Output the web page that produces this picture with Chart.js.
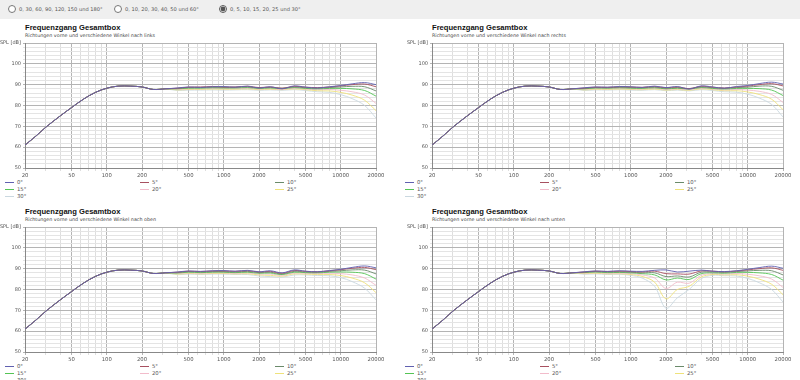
<!DOCTYPE html>
<html>
<head>
<meta charset="utf-8">
<script src="https://cdn.jsdelivr.net/npm/chart.js@4"></script>
<style>
  body { margin: 0; background: #fff; font-family: "DejaVu Sans", sans-serif; width: 800px; height: 380px; overflow: hidden; position: relative; }
  .topbar { position: absolute; left: 0; top: 0; width: 800px; height: 19px; background: #efefef; font-size: 5.1px; color: #555; }
  .topbar label { position: absolute; top: 5px; display: flex; align-items: center; }
  .topbar input { width: 8px; height: 8px; margin: 0 3px 0 0; accent-color: #555; }
  .panel { position: absolute; width: 400px; height: 184px; }
  .panel h2 { position: absolute; margin: 0; left: 25px; top: 3px; font-family: "Liberation Sans", sans-serif; font-size: 7.6px; font-weight: bold; color: #111; white-space: nowrap; }
  .panel .sub { position: absolute; left: 25px; top: 13px; font-size: 4.8px; color: #444; white-space: nowrap; }
  .panel canvas { position: absolute; top: 18px; }
  .legend { position: absolute; left: 0; top: 159px; width: 400px; font-size: 5.3px; color: #555; }
  .legend div { position: absolute; display: flex; align-items: center; white-space: nowrap; }
  .legend span.sw { display: inline-block; width: 9px; height: 1px; margin-right: 3px; }
</style>
</head>
<body>
<div class="topbar">
  <label style="left:8px"><input type="radio" name="w">0, 30, 60, 90, 120, 150 und 180°</label>
  <label style="left:114px"><input type="radio" name="w">0, 10, 20, 30, 40, 50 und 60°</label>
  <label style="left:219px"><input type="radio" name="w" checked>0, 5, 10, 15, 20, 25 und 30°</label>
</div>
<div id="panels"></div>
<script>
// frequencies (Hz)
const FREQ = [20, 25, 30, 40, 50, 63, 80, 100, 125, 160, 200, 250, 315,
  400, 500, 630, 800, 1000, 1250, 1600, 2000, 2500, 3150, 4000, 5000, 6300, 8000, 10000, 12500, 16000, 20000];

// below ~315 Hz all angles are identical
const BASS = [61, 65.5, 69.5, 75, 79, 83, 86.3, 88.3, 89.3, 89.3, 88.9, 87.7, 88.0];

const ANGLES = ["0°", "5°", "10°", "15°", "20°", "25°", "30°"];
const COLORS = ["#6060b0", "#a85060", "#6a8a6a", "#55c455", "#f2bccb", "#efe27a", "#cad8e0"];

const X_LABELS = [20, 50, 100, 200, 500, 1000, 2000, 5000, 10000, 20000];

// values from 400 Hz upwards, one list per angle
const LINKS = [
  [88.4, 88.9, 88.7, 89.0, 89.1, 88.8, 89.3, 88.4, 89.0, 88.0, 89.4, 88.8, 88.4, 89.0, 89.6, 90.4, 91.0, 90.0],
  [88.3, 88.8, 88.9, 89.1, 88.9, 88.9, 89.2, 88.6, 88.9, 88.3, 89.2, 88.8, 88.6, 88.9, 89.4, 90.0, 90.3, 89.0],
  [88.2, 88.6, 88.6, 88.8, 88.7, 88.7, 88.9, 88.4, 88.7, 88.3, 88.9, 88.5, 88.3, 88.6, 88.9, 89.2, 89.0, 87.0],
  [88.0, 88.3, 88.3, 88.5, 88.4, 88.4, 88.6, 88.2, 88.4, 88.1, 88.6, 88.2, 88.0, 88.2, 88.2, 88.0, 87.2, 84.5],
  [87.8, 88.0, 88.0, 88.2, 88.1, 88.1, 88.3, 87.9, 88.1, 87.8, 88.3, 87.9, 87.6, 87.7, 87.3, 86.6, 85.0, 81.0],
  [87.5, 87.7, 87.7, 87.9, 87.8, 87.8, 88.0, 87.6, 87.8, 87.6, 88.0, 87.6, 87.1, 87.0, 86.3, 85.0, 82.5, 77.5],
  [87.2, 87.4, 87.4, 87.5, 87.4, 87.5, 87.6, 87.3, 87.5, 87.3, 87.6, 87.2, 86.6, 86.3, 85.2, 83.3, 80.0, 74.0]
];
const RECHTS = [
  [88.5, 88.9, 88.8, 89.1, 89.0, 88.7, 89.3, 88.6, 89.1, 87.9, 89.4, 88.9, 88.3, 89.1, 89.6, 90.5, 91.2, 90.3],
  [88.4, 88.8, 88.7, 89.0, 88.9, 88.7, 89.1, 88.5, 88.9, 88.1, 89.2, 88.8, 88.4, 88.9, 89.3, 90.0, 90.5, 89.4],
  [88.2, 88.6, 88.5, 88.8, 88.6, 88.5, 88.8, 88.3, 88.6, 88.1, 88.9, 88.5, 88.2, 88.6, 88.8, 89.3, 89.2, 87.3],
  [88.0, 88.4, 88.3, 88.5, 88.3, 88.2, 88.5, 88.0, 88.3, 87.9, 88.6, 88.2, 87.9, 88.2, 88.2, 88.1, 87.4, 84.8],
  [87.8, 88.1, 88.0, 88.2, 88.0, 87.9, 88.2, 87.7, 88.0, 87.6, 88.3, 87.9, 87.5, 87.7, 87.4, 86.8, 85.3, 81.5],
  [87.5, 87.8, 87.7, 87.9, 87.7, 87.6, 87.9, 87.4, 87.7, 87.3, 88.0, 87.6, 87.1, 87.1, 86.5, 85.3, 83.0, 78.0],
  [87.2, 87.5, 87.4, 87.6, 87.4, 87.3, 87.6, 87.1, 87.4, 87.0, 87.6, 87.2, 86.6, 86.4, 85.4, 83.6, 80.5, 74.5]
];
const OBEN = [
  [88.4, 88.9, 88.7, 89.0, 89.1, 88.8, 89.2, 88.5, 89.0, 88.0, 89.4, 88.8, 88.5, 89.1, 89.7, 90.6, 91.3, 90.4],
  [88.3, 88.8, 88.6, 88.9, 88.9, 88.7, 89.0, 88.4, 88.7, 87.8, 89.1, 88.7, 88.5, 89.0, 89.5, 90.2, 90.6, 89.5],
  [88.1, 88.6, 88.4, 88.6, 88.6, 88.4, 88.7, 88.1, 88.3, 87.5, 88.7, 88.4, 88.3, 88.7, 89.0, 89.4, 89.3, 87.5],
  [87.9, 88.3, 88.1, 88.3, 88.3, 88.1, 88.3, 87.8, 87.9, 87.2, 88.3, 88.1, 88.0, 88.3, 88.4, 88.3, 87.6, 85.0],
  [87.7, 88.0, 87.8, 88.0, 88.0, 87.8, 88.0, 87.4, 87.4, 86.8, 87.9, 87.8, 87.6, 87.8, 87.6, 87.0, 85.5, 82.0],
  [87.4, 87.7, 87.5, 87.7, 87.7, 87.5, 87.6, 87.0, 86.8, 86.4, 87.5, 87.4, 87.2, 87.2, 86.7, 85.5, 83.2, 78.5],
  [87.1, 87.4, 87.2, 87.4, 87.4, 87.2, 87.2, 86.5, 86.2, 85.9, 87.0, 87.0, 86.7, 86.6, 85.7, 83.8, 80.6, 75.0]
];
const UNTEN = [
  [88.5, 88.9, 88.7, 89.0, 88.8, 88.7, 89.2, 89.4, 88.4, 88.8, 89.3, 88.8, 88.6, 89.0, 89.7, 90.5, 91.2, 90.2],
  [88.4, 88.8, 88.6, 88.8, 88.6, 88.4, 88.8, 87.6, 87.5, 87.4, 88.9, 88.8, 88.5, 88.9, 89.4, 90.0, 90.4, 89.2],
  [88.3, 88.6, 88.4, 88.5, 88.3, 88.0, 88.0, 86.2, 86.5, 86.0, 88.3, 88.4, 88.2, 88.6, 88.9, 89.2, 89.0, 87.0],
  [88.1, 88.4, 88.1, 88.2, 88.0, 87.6, 87.0, 84.6, 85.5, 84.8, 87.6, 88.0, 87.8, 88.2, 88.2, 88.0, 87.2, 84.5],
  [87.9, 88.1, 87.8, 87.9, 87.6, 87.0, 85.5, 80.5, 83.5, 83.0, 86.8, 87.6, 87.4, 87.7, 87.3, 86.6, 85.0, 81.0],
  [87.6, 87.8, 87.5, 87.6, 87.2, 86.3, 83.5, 75.5, 80.0, 81.5, 86.0, 87.2, 87.0, 87.1, 86.4, 85.0, 82.5, 77.5],
  [87.3, 87.5, 87.2, 87.3, 86.8, 85.5, 81.5, 71.0, 76.0, 80.0, 85.2, 86.8, 86.6, 86.5, 85.3, 83.3, 80.0, 74.0]
];

const PANELS = [
  { sub: "Richtungen vorne und verschiedene Winkel nach links", data: LINKS, left: 0, top: 20, plotLeft: 0 },
  { sub: "Richtungen vorne und verschiedene Winkel nach rechts", data: RECHTS, left: 400, top: 20, plotLeft: 7 },
  { sub: "Richtungen vorne und verschiedene Winkel nach oben", data: OBEN, left: 0, top: 204, plotLeft: 0 },
  { sub: "Richtungen vorne und verschiedene Winkel nach unten", data: UNTEN, left: 400, top: 204, plotLeft: 7 }
];

const allTicks = [];
for (const dec of [10, 100, 1000, 10000]) {
  for (let m = 1; m <= 9; m++) {
    const v = m * dec;
    if (v >= 20 && v <= 20000) allTicks.push(v);
  }
}

const root = document.getElementById("panels");
PANELS.forEach((p, idx) => {
  const panel = document.createElement("div");
  panel.className = "panel";
  panel.style.left = p.left + "px";
  panel.style.top = p.top + "px";

  const h = document.createElement("h2");
  h.textContent = "Frequenzgang Gesamtbox";
  h.style.left = (25 + p.plotLeft) + "px";
  panel.appendChild(h);

  const sub = document.createElement("div");
  sub.className = "sub";
  sub.textContent = p.sub;
  sub.style.left = (25 + p.plotLeft) + "px";
  panel.appendChild(sub);

  const canvas = document.createElement("canvas");
  canvas.width = 390;
  canvas.height = 140;
  canvas.style.width = "390px";
  canvas.style.height = "140px";
  canvas.style.left = p.plotLeft + "px";
  panel.appendChild(canvas);

  const legend = document.createElement("div");
  legend.className = "legend";
  ANGLES.forEach((a, i) => {
    const item = document.createElement("div");
    item.style.left = (5 + (i % 3) * 135) + "px";
    item.style.top = (Math.floor(i / 3) * 7) + "px";
    item.innerHTML = `<span class="sw" style="background:${COLORS[i]}"></span>${a}`;
    legend.appendChild(item);
  });
  panel.appendChild(legend);
  root.appendChild(panel);

  makeChart(canvas, p.data);
});

function makeChart(canvas, series) {
  const datasets = series.map((vals, i) => {
    const ys = BASS.concat(vals);
    return {
      label: ANGLES[i],
      data: FREQ.map((f, k) => ({ x: f, y: ys[k] })),
      borderColor: COLORS[i],
      borderWidth: 0.9,
      pointRadius: 0,
      tension: 0.35,
      fill: false
    };
  });

  new Chart(canvas.getContext("2d"), {
    type: "line",
    data: { datasets },
    options: {
      responsive: false,
      animation: false,
      layout: { padding: { top: 4, right: 14, left: 0, bottom: 0 } },
      plugins: { legend: { display: false }, tooltip: { enabled: false } },
      scales: {
        x: {
          type: "logarithmic",
          min: 20,
          max: 20000,
          afterBuildTicks: (scale) => { scale.ticks = allTicks.map(v => ({ value: v })); },
          afterFit: (scale) => { scale.height = 10; },
          ticks: {
            autoSkip: false,
            maxRotation: 0,
            padding: 1,
            color: "#555",
            font: { family: "DejaVu Sans", size: 5.3 },
            callback: (v) => X_LABELS.includes(v) ? String(v) : ""
          },
          grid: {
            tickLength: 3,
            color: (ctx) => ctx.tick && X_LABELS.includes(ctx.tick.value) ? "#b4b4b4" : "#dedede",
            lineWidth: 1
          },
          border: { color: "#888" }
        },
        y: {
          min: 50,
          max: 110,
          afterBuildTicks: (scale) => {
            const t = [];
            for (let v = 50; v <= 110; v += 2) t.push({ value: v });
            scale.ticks = t;
          },
          afterFit: (scale) => { scale.width = 25; },
          ticks: {
            autoSkip: false,
            padding: 2,
            color: "#555",
            font: { family: "DejaVu Sans", size: 5 },
            callback: (v) => v === 110 ? "SPL [dB]" : (v % 10 === 0 ? String(v) : "")
          },
          grid: {
            tickLength: 2,
            color: (ctx) => ctx.tick && ctx.tick.value % 10 === 0 ? "#b4b4b4" : "#e4e4e4",
            lineWidth: 1
          },
          border: { color: "#888" }
        }
      }
    }
  });
}
</script>
</body>
</html>
